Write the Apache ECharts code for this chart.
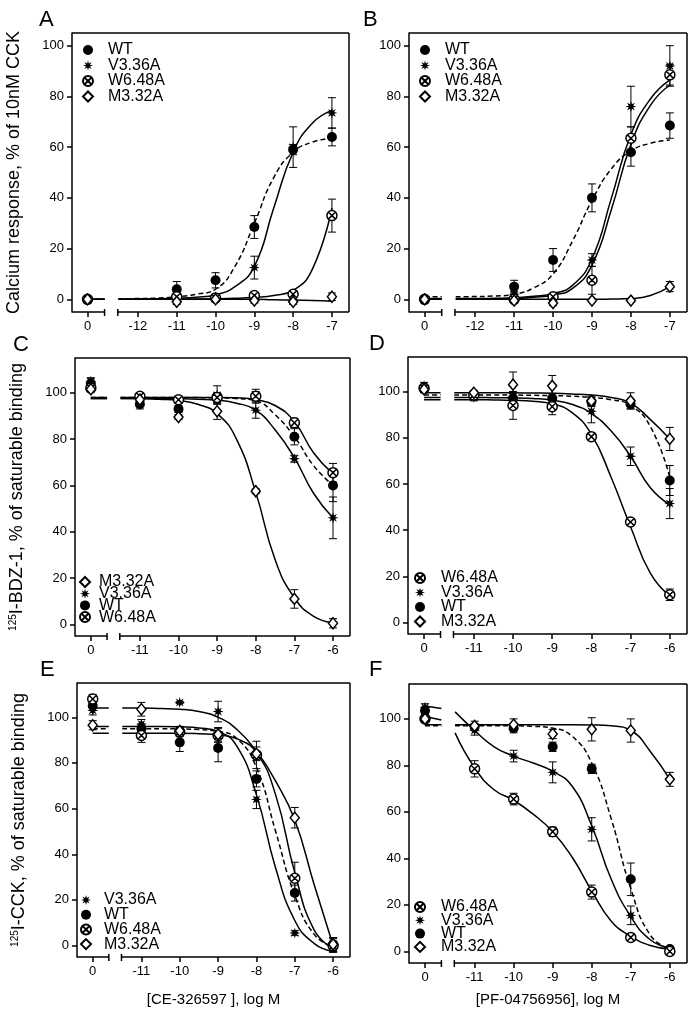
<!DOCTYPE html>
<html><head><meta charset="utf-8">
<script src="https://cdn.jsdelivr.net/npm/echarts@6/dist/echarts.min.js"></script>
<style>html,body{margin:0;padding:0;background:#fff}#c{width:697px;height:1017px}</style>
</head><body><div id="c"></div><script>
// ---------------- data ----------------
const NAMES = ['WT', 'V3.36A', 'W6.48A', 'M3.32A'];
const LOG_AB = [0, -11, -10, -9, -8, -7];
const LOG_CF = [0, -11, -10, -9, -8, -7, -6];
const TICKS_AB = [0, -12, -11, -10, -9, -8, -7];
const TICKS_CF = [0, -11, -10, -9, -8, -7, -6];
const Y_TICKS = [0, 20, 40, 60, 80, 100];
const FIT_X_AB = [-12.5, -12, -11.5, -11, -10.5, -10, -9.5, -9, -8.5, -8, -7.5, -7];
const FIT_X_CF = [-11.5, -11, -10.5, -10, -9.5, -9, -8.5, -8, -7.5, -7, -6.5, -6];

// Panel A
const A_WT = [0, 4, 7.5, 28.5, 59, 64];
const A_WT_ERR = [0, 3, 3, 4.5, 2, 3.5];
const A_WT_FIT = [0.2, 0.3, 0.5, 1, 2, 4, 13, 30, 48, 58, 62, 63.5];
const A_WT_LEFT = [0, 0];
const A_V3 = [0, 1.5, 1, 12.5, 60, 73.5];
const A_V3_ERR = [0, 1.5, 1, 4.5, 8, 6];
const A_V3_FIT = [0, 0.1, 0.2, 0.4, 0.8, 1.8, 5, 13, 36, 58, 69.5, 74.5];
const A_V3_LEFT = [0, 0];
const A_W6 = [0, 1, 0.5, 1.5, 2, 33];
const A_W6_ERR = [0, 1, 1, 1, 1.5, 6.5];
const A_W6_FIT = [0, 0, 0, 0, 0.1, 0.2, 0.4, 0.8, 1.5, 3.5, 12, 36];
const A_W6_LEFT = [0, 0];
const A_M3 = [0, -1, 0, -0.5, -1, 1];
const A_M3_ERR = [0, 1, 1, 1, 1, 1.5];
const A_M3_FIT = [0, 0, 0, 0, 0, 0, 0, 0, -0.2, -0.3, -0.5, -0.8];
const A_M3_LEFT = [0, 0];

// Panel B
const B_WT = [0, 5, 15.5, 40, 58, 68.5];
const B_WT_ERR = [0.5, 2.5, 4.5, 5.5, 5.5, 5];
const B_WT_FIT = [1, 1.1, 1.3, 2, 4.5, 10, 23, 39, 51.5, 58.5, 61.5, 62.8];
const B_WT_LEFT = [1, 1];
const B_V3 = [0, 2, 1, 15.5, 76, 92];
const B_V3_ERR = [0, 1, 1, 2.5, 8, 8];
const B_V3_FIT = [0.3, 0.3, 0.4, 0.6, 1.2, 2.3, 5.5, 16, 40, 65, 79, 86.5];
const B_V3_LEFT = [0.3, 0.3];
const B_W6 = [0, 0, 1, 7.5, 63.5, 88.5];
const B_W6_ERR = [0, 1, 1, 5.5, 4.5, 4];
const B_W6_FIT = [0, 0, 0.1, 0.3, 0.8, 1.7, 4.3, 13.5, 35.5, 61, 76.5, 84.5];
const B_W6_LEFT = [0, 0];
const B_M3 = [0, -0.5, -1.5, -0.5, -0.5, 5];
const B_M3_ERR = [0, 0.5, 1, 0.5, 0.5, 2];
const B_M3_FIT = [0, 0, 0, 0, 0, 0, 0, 0, 0.1, 0.3, 1.5, 5];
const B_M3_LEFT = [0, 0];

// Panel C
const C_WT = [104, 95, 93, 97.5, 98.5, 81, 60];
const C_WT_ERR = [2, 2, 1.5, 2, 2, 3.5, 7];
const C_WT_FIT = [98, 98, 98, 98, 97.9, 97.8, 97.5, 96.5, 90.5, 81, 68.5, 60];
const C_WT_LEFT = [98, 98];
const C_V3 = [105, 96, 97, 99, 92.5, 71.5, 46];
const C_V3_ERR = [1.5, 2, 1.5, 4, 3.5, 1.5, 9];
const C_V3_FIT = [97.5, 97.5, 97.5, 97.4, 97.2, 96.8, 95.5, 92.5, 84, 72, 56.5, 46];
const C_V3_LEFT = [97.5, 97.5];
const C_W6 = [102, 98.5, 97, 98, 98.5, 87, 65.5];
const C_W6_ERR = [1.5, 1, 1, 2, 3, 2, 4];
const C_W6_FIT = [98, 98, 98, 98, 98, 98, 97.8, 97, 94.5, 87.5, 74, 65];
const C_W6_LEFT = [98, 98];
const C_M3 = [101.5, 97, 89.5, 92, 57.5, 11, 0.5];
const C_M3_ERR = [1, 1.5, 1, 3.5, 1, 4, 2];
const C_M3_FIT = [97.5, 97.5, 97.2, 96.7, 95, 91, 80, 57, 28, 11.5, 3.5, 0.8];
const C_M3_LEFT = [97.5, 97.5];

// Panel D
const D_WT = [101, 99, 97, 97, 95.5, 94.5, 61.5];
const D_WT_ERR = [1.5, 1, 2, 2, 2, 2, 6.5];
const D_WT_FIT = [98.5, 98.5, 98.5, 98.5, 98.4, 98.3, 98, 97.5, 96.5, 94, 85, 63];
const D_WT_LEFT = [98.5, 98.5];
const D_V3 = [102.5, 97.5, 98, 98, 91.5, 72, 51.5];
const D_V3_ERR = [1.5, 1.5, 2, 5, 5, 4, 6.5];
const D_V3_FIT = [97.5, 97.5, 97.4, 97.3, 97, 96.3, 94.5, 90.5, 83, 72, 58.5, 51];
const D_V3_LEFT = [97.5, 97.5];
const D_W6 = [101.5, 98.5, 94, 93.5, 80.5, 43.5, 12];
const D_W6_ERR = [1, 1, 6, 3.5, 1, 1, 2.5];
const D_W6_FIT = [96.5, 96.5, 96.4, 96.2, 95.8, 94.7, 91, 81.5, 63, 41.5, 21.5, 11.5];
const D_W6_LEFT = [96.5, 96.5];
const D_M3 = [101, 99.5, 103, 102.5, 96, 96, 79.5];
const D_M3_ERR = [1, 1, 5.5, 4.5, 2, 3.5, 5];
const D_M3_FIT = [99.5, 99.5, 99.5, 99.5, 99.4, 99.3, 99, 98.5, 97.5, 95, 88, 79.5];
const D_M3_LEFT = [99.5, 99.5];

// Panel E
const E_WT = [105, 95, 89, 86.5, 73, 23, 0.5];
const E_WT_ERR = [2, 2, 4, 6, 3.5, 3.5, 3];
const E_WT_FIT = [95, 95, 95, 94.9, 94.6, 93.8, 90.5, 78, 50, 22, 5, -0.5];
const E_WT_LEFT = [95, 95];
const E_V3 = [103, 97, 106.5, 102.5, 64, 5.5, 0];
const E_V3_ERR = [2, 2, 0.5, 4.5, 4, 1, 2];
const E_V3_FIT = [96, 96, 96, 95.8, 95.3, 93.8, 87, 66, 34, 11, 1, -2.5];
const E_V3_LEFT = [96, 96];
const E_W6 = [108, 92, 93.5, 92, 83.5, 29.5, 0];
const E_W6_ERR = [2, 3, 2, 3, 6, 7, 3];
const E_W6_FIT = [93, 93, 93, 93, 92.8, 92.3, 90.5, 84.5, 66, 32, 7, -1.5];
const E_W6_LEFT = [93, 93];
const E_M3 = [96.5, 103.5, 94, 92.5, 84, 56, 0.5];
const E_M3_ERR = [2, 3, 2, 3, 3, 4.5, 3];
const E_M3_FIT = [104, 104, 103.8, 103.5, 102.5, 100, 94.5, 85, 72, 55, 27, 0];
const E_M3_LEFT = [104, 104];

// Panel F
const F_WT = [103.5, 96.5, 96, 88, 78.5, 31, 1];
const F_WT_ERR = [1.5, 1.5, 2, 2, 2, 7, 1];
const F_WT_FIT = [97, 97, 97, 97, 96.8, 96, 92.5, 81, 57, 27, 7, 1];
const F_WT_LEFT = [97, 97];
const F_V3 = [105, 95, 84, 77, 52.5, 15.5, 0.5];
const F_V3_ERR = [1.5, 2, 2.5, 4.5, 5, 4, 1];
const F_V3_FIT = [103, 95, 88, 84, 81, 77.5, 71, 54, 31, 15, 5, 1.5];
const F_V3_LEFT = [105.5, 104.5];
const F_W6 = [100, 78.5, 65.5, 51.5, 25.5, 6, 0];
const F_W6_ERR = [1.5, 3.5, 2.5, 2, 3, 1, 0.5];
const F_W6_FIT = [94, 79, 69.5, 65, 59, 51.5, 40.5, 26, 13, 6.5, 2.5, 1];
const F_W6_LEFT = [101, 99.5];
const F_M3 = [100, 97, 97.5, 93.5, 95.5, 95, 74];
const F_M3_ERR = [1, 2, 2.5, 2, 5, 5, 3];
const F_M3_FIT = [97.5, 97.5, 97.5, 97.5, 97.5, 97.5, 97.5, 97.4, 97, 95, 86, 74];
const F_M3_LEFT = [97.5, 97.5];

// ---------------- styles / layout ----------------
const FONT = '"Liberation Sans", Arial, sans-serif';
const STAR = (function () {
  let s = 'path://';
  for (let k = 0; k < 16; k++) {
    const a = k * Math.PI / 8 - Math.PI / 2, r = (k % 2) ? 4.4 : 10;
    s += (k ? 'L' : 'M') + (r * Math.cos(a)).toFixed(2) + ',' + (r * Math.sin(a)).toFixed(2) + ' ';
  }
  return s + 'Z';
})();
const CIRCX = 'path://M10,0A10,10,0,1,1,-10,0A10,10,0,1,1,10,0Z M-7.07,-7.07L7.07,7.07 M-7.07,7.07L7.07,-7.07';
const SYM = {
  'WT': { symbol: 'circle', size: 10, itemStyle: { color: '#000', opacity: 1 } },
  'V3.36A': { symbol: STAR, size: 11, itemStyle: { color: '#000', opacity: 1 } },
  'W6.48A': { symbol: CIRCX, size: 10, itemStyle: { color: '#fff', borderColor: '#000', borderWidth: 1.5, opacity: 1 } },
  'M3.32A': { symbol: 'diamond', size: [9, 11], itemStyle: { color: '#fff', borderColor: '#000', borderWidth: 1.5, opacity: 1 } }
};
const AX_AB = { xr: [-13.7, -6.56], zero: -13.3, brk: [-12.86, -12.52], ticks: TICKS_AB, logs: LOG_AB, fitX: FIT_X_AB, yr: [-5, 105] };
const AX_CF = { xr: [-12.68, -5.56], zero: -12.27, brk: [-11.85, -11.52], ticks: TICKS_CF, logs: LOG_CF, fitX: FIT_X_CF, yr: [-5, 115] };
const LEG_FS = 16;

const PANELS = [
  { id: 'A', ax: AX_AB, grid: { left: 72, top: 33, width: 277, height: 279 }, letter: [39, 9],
    yname: 'Calcium response, % of 10nM CCK',
    legend: { left: 82, top: 42, gap: -0.5, pad: 10, order: ['WT', 'V3.36A', 'W6.48A', 'M3.32A'] },
    data: { 'WT': [A_WT, A_WT_ERR, A_WT_FIT, A_WT_LEFT], 'V3.36A': [A_V3, A_V3_ERR, A_V3_FIT, A_V3_LEFT], 'W6.48A': [A_W6, A_W6_ERR, A_W6_FIT, A_W6_LEFT], 'M3.32A': [A_M3, A_M3_ERR, A_M3_FIT, A_M3_LEFT] } },
  { id: 'B', ax: AX_AB, grid: { left: 409, top: 33, width: 278, height: 279 }, letter: [363, 9],
    legend: { left: 419, top: 42, gap: -0.5, pad: 10, order: ['WT', 'V3.36A', 'W6.48A', 'M3.32A'] },
    data: { 'WT': [B_WT, B_WT_ERR, B_WT_FIT, B_WT_LEFT], 'V3.36A': [B_V3, B_V3_ERR, B_V3_FIT, B_V3_LEFT], 'W6.48A': [B_W6, B_W6_ERR, B_W6_FIT, B_W6_LEFT], 'M3.32A': [B_M3, B_M3_ERR, B_M3_FIT, B_M3_LEFT] } },
  { id: 'C', ax: AX_CF, grid: { left: 75, top: 358, width: 275, height: 278 }, letter: [13, 334],
    yname: '{s|125}I-BDZ-1, % of saturable binding',
    legend: { left: 79, top: 574, gap: -4.3, pad: 4, order: ['M3.32A', 'V3.36A', 'WT', 'W6.48A'] },
    data: { 'WT': [C_WT, C_WT_ERR, C_WT_FIT, C_WT_LEFT], 'V3.36A': [C_V3, C_V3_ERR, C_V3_FIT, C_V3_LEFT], 'W6.48A': [C_W6, C_W6_ERR, C_W6_FIT, C_W6_LEFT], 'M3.32A': [C_M3, C_M3_ERR, C_M3_FIT, C_M3_LEFT] } },
  { id: 'D', ax: AX_CF, grid: { left: 408, top: 357, width: 279, height: 277 }, letter: [369, 333],
    legend: { left: 414, top: 570, gap: -1.5, pad: 11, order: ['W6.48A', 'V3.36A', 'WT', 'M3.32A'] },
    data: { 'WT': [D_WT, D_WT_ERR, D_WT_FIT, D_WT_LEFT], 'V3.36A': [D_V3, D_V3_ERR, D_V3_FIT, D_V3_LEFT], 'W6.48A': [D_W6, D_W6_ERR, D_W6_FIT, D_W6_LEFT], 'M3.32A': [D_M3, D_M3_ERR, D_M3_FIT, D_M3_LEFT] } },
  { id: 'E', ax: AX_CF, grid: { left: 77, top: 683, width: 273, height: 274 }, letter: [40, 659],
    yname: '{s|125}I-CCK, % of saturable binding', xname: '[CE-326597 ], log M', xgap: 35,
    legend: { left: 80, top: 892, gap: -1.3, pad: 8, order: ['V3.36A', 'WT', 'W6.48A', 'M3.32A'] },
    data: { 'WT': [E_WT, E_WT_ERR, E_WT_FIT, E_WT_LEFT], 'V3.36A': [E_V3, E_V3_ERR, E_V3_FIT, E_V3_LEFT], 'W6.48A': [E_W6, E_W6_ERR, E_W6_FIT, E_W6_LEFT], 'M3.32A': [E_M3, E_M3_ERR, E_M3_FIT, E_M3_LEFT] } },
  { id: 'F', ax: AX_CF, grid: { left: 409, top: 684, width: 278, height: 279 }, letter: [369, 659],
    xname: '[PF-04756956], log M', xgap: 29,
    legend: { left: 414, top: 899, gap: -2.7, pad: 11, order: ['W6.48A', 'V3.36A', 'WT', 'M3.32A'] },
    data: { 'WT': [F_WT, F_WT_ERR, F_WT_FIT, F_WT_LEFT], 'V3.36A': [F_V3, F_V3_ERR, F_V3_FIT, F_V3_LEFT], 'W6.48A': [F_W6, F_W6_ERR, F_W6_FIT, F_W6_LEFT], 'M3.32A': [F_M3, F_M3_ERR, F_M3_FIT, F_M3_LEFT] } }
];

function errItem(params, api) {
  const x = api.value(0), y = api.value(1), e = api.value(2);
  if (!(e > 0)) return null;
  const t = api.coord([x, y + e]), b = api.coord([x, y - e]), c = 4;
  const st = { stroke: '#000', lineWidth: 1 };
  return { type: 'group', children: [
    { type: 'line', shape: { x1: t[0], y1: t[1], x2: b[0], y2: b[1] }, style: st },
    { type: 'line', shape: { x1: t[0] - c, y1: t[1], x2: t[0] + c, y2: t[1] }, style: st },
    { type: 'line', shape: { x1: b[0] - c, y1: b[1], x2: b[0] + c, y2: b[1] }, style: st }
  ] };
}
function frameItem(ax) {
  return function (params, api) {
    const bl = api.coord([ax.xr[0], ax.yr[0]]), tr = api.coord([ax.xr[1], ax.yr[1]]);
    const b1 = api.coord([ax.brk[0], ax.yr[0]])[0], b2 = api.coord([ax.brk[1], ax.yr[0]])[0];
    const y0 = bl[1], st = { stroke: '#000', lineWidth: 1.5 };
    return { type: 'group', children: [
      { type: 'line', shape: { x1: bl[0], y1: tr[1], x2: tr[0], y2: tr[1] }, style: st },
      { type: 'line', shape: { x1: tr[0], y1: tr[1], x2: tr[0], y2: y0 }, style: st },
      { type: 'line', shape: { x1: bl[0], y1: y0, x2: b1, y2: y0 }, style: st },
      { type: 'line', shape: { x1: b2, y1: y0, x2: tr[0], y2: y0 }, style: st },
      { type: 'line', shape: { x1: b1, y1: y0 - 3, x2: b1, y2: y0 + 4 }, style: st },
      { type: 'line', shape: { x1: b2, y1: y0 - 3, x2: b2, y2: y0 + 4 }, style: st }
    ] };
  };
}

const option = { animation: false, backgroundColor: '#fff', textStyle: { fontFamily: FONT },
  grid: [], xAxis: [], yAxis: [], series: [], legend: [], title: [] };

PANELS.forEach(function (p, i) {
  const ax = p.ax;
  const tickPos = ax.ticks.map(function (t) { return t === 0 ? ax.zero : t; });
  option.grid.push(Object.assign({ show: false, outerBoundsMode: 'none', containLabel: false }, p.grid));
  option.title.push({ text: p.id, left: p.letter[0], top: p.letter[1], padding: 0,
    textStyle: { fontSize: 22, fontWeight: 'normal', color: '#000', fontFamily: FONT } });
  option.xAxis.push({ type: 'value', gridIndex: i, min: ax.xr[0], max: ax.xr[1], position: 'bottom',
    axisLine: { show: false, onZero: false }, splitLine: { show: false },
    axisTick: { show: true, customValues: tickPos, length: 5, lineStyle: { color: '#000', width: 1.5 } },
    axisLabel: { customValues: tickPos, color: '#000', fontSize: 13, margin: 8, fontFamily: FONT,
      formatter: function (v) { const k = tickPos.findIndex(function (q) { return Math.abs(q - v) < 1e-6; }); return k < 0 ? '' : String(ax.ticks[k]); } },
    name: p.xname || '', nameLocation: 'middle', nameGap: p.xgap || 30,
    nameTextStyle: { fontSize: 15, color: '#000', fontFamily: FONT } });
  option.yAxis.push({ type: 'value', gridIndex: i, min: ax.yr[0], max: ax.yr[1], position: 'left',
    axisLine: { show: true, onZero: false, lineStyle: { color: '#000', width: 1.5 } }, splitLine: { show: false },
    axisTick: { show: true, customValues: Y_TICKS, length: 5, lineStyle: { color: '#000', width: 1.5 } },
    axisLabel: { customValues: Y_TICKS, color: '#000', fontSize: 13, margin: 8, fontFamily: FONT },
    name: p.yname || '', nameLocation: 'middle', nameGap: 49,
    nameTextStyle: { fontSize: 18, color: '#000', fontFamily: FONT,
      rich: { s: { fontSize: 10, verticalAlign: 'top', lineHeight: 10, fontFamily: FONT, color: '#000' } } } });
  option.series.push({ type: 'custom', name: 'frame ' + p.id, xAxisIndex: i, yAxisIndex: i, silent: true, z: 1,
    data: [[ax.xr[0], ax.yr[0]]], renderItem: frameItem(ax) });
  NAMES.forEach(function (nm) {
    const d = p.data[nm], vals = d[0], errs = d[1], fit = d[2], left = d[3];
    const pts = ax.logs.map(function (c, k) { return [c === 0 ? ax.zero : c, vals[k], errs[k]]; });
    const ls = { color: '#000', width: 1.5, type: nm === 'WT' ? [5, 3] : 'solid' };
    option.series.push({ type: 'custom', name: nm + ' err ' + p.id, xAxisIndex: i, yAxisIndex: i, silent: true, z: 2,
      data: pts, renderItem: errItem });
    option.series.push({ type: 'line', name: nm + ' fit ' + p.id, xAxisIndex: i, yAxisIndex: i, silent: true, z: 3,
      data: ax.fitX.map(function (x, k) { return [x, fit[k]]; }), smooth: 0.5, symbol: 'none', lineStyle: ls });
    option.series.push({ type: 'line', name: nm + ' fitL ' + p.id, xAxisIndex: i, yAxisIndex: i, silent: true, z: 3,
      data: [[ax.zero, left[0]], [ax.brk[0], left[1]]], symbol: 'none', lineStyle: ls });
    option.series.push({ type: 'scatter', name: nm, xAxisIndex: i, yAxisIndex: i, z: 4,
      data: pts.map(function (q) { return [q[0], q[1]]; }), symbol: SYM[nm].symbol, symbolSize: SYM[nm].size,
      itemStyle: SYM[nm].itemStyle, emphasis: { disabled: true } });
  });
  option.legend.push({ orient: 'vertical', left: p.legend.left, top: p.legend.top, padding: 0,
    itemGap: p.legend.gap, itemWidth: 10, itemHeight: 10, selectedMode: false, data: p.legend.order,
    textStyle: { fontSize: LEG_FS, lineHeight: LEG_FS, color: '#000', fontFamily: FONT, padding: [0, 0, 0, p.legend.pad] } });
});

const chart = echarts.init(document.getElementById('c'), null, { renderer: 'canvas' });
chart.setOption(option);
</script></body></html>
